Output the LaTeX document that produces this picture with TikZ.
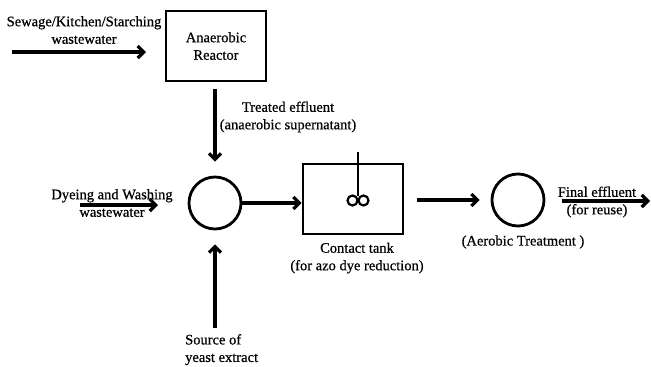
\documentclass[tikz,border=0pt]{standalone}
\usepackage{fontspec}
\setmainfont{Liberation Serif}[FakeBold=0.6]
\usetikzlibrary{arrows.meta}
\begin{document}
\begin{tikzpicture}[x=1pt,y=-1pt,
  flow/.style={line width=3.2pt,-{Straight Barb[length=6pt,width=12pt]}},
  unit/.style={draw,line width=2.8pt,minimum width=100pt,minimum height=70pt,inner sep=0pt},
  vessel/.style={draw,line width=2.8pt,circle,minimum size=52pt,inner sep=0pt},
  lbl/.style={font=\fontsize{14.5}{17.5}\selectfont,align=center,inner sep=0pt}]
\useasboundingbox (0,0) rectangle (651,367);
\node[unit] (reactor) at (216,46) {};
\node[lbl] (reactortxt) at (216,46) {Anaerobic\\Reactor};
\node[lbl] (sewage) at (84,30) {Sewage/Kitchen/Starching\\wastewater};
\coordinate (sewstart) at (12,52);
\coordinate (sewend) at (146,52);
\draw[flow] (sewstart) -- (sewend);
\node[vessel] (mix) at (215,203) {};
\node[lbl] (treated) at (288,117) {Treated effluent\\(anaerobic supernatant)};
\coordinate (rs) at (215,89);
\draw[flow] (rs) -- ([yshift=14pt]mix.north);
\node[lbl] (dye) at (112,203) {Dyeing and Washing\\wastewater};
\coordinate (dyestart) at (80,205);
\coordinate (dyeend) at (158,205);
\draw[flow] (dyestart) -- (dyeend);
\node[unit] (tank) at (353,199) {};
\coordinate (shafttop) at (358,152);
\coordinate (shaftbot) at (358,196);
\draw[line width=2.6pt] (shafttop) -- (shaftbot);
\draw[line width=2.2pt] (352.5,200.5) circle (5pt) (363.5,200.5) circle (5pt);
\node[lbl] (tanktxt) at (357,258) {Contact tank\\(for azo dye reduction)};
\draw[flow] (mix.east) -- (mix.east -| tank.west);
\node[vessel] (aero) at (518,200) {};
\node[lbl] (aerotxt) at (523,242) {(Aerobic Treatment )};
\coordinate (t2s) at (417,200);
\draw[flow] (t2s) -- ([xshift=-11pt]aero.west);
\node[lbl] (final) at (597,202) {Final effluent\\(for reuse)};
\coordinate (fs) at (562,201);
\coordinate (fe) at (650,201);
\draw[flow] (fs) -- (fe);
\node[lbl,align=left,anchor=north west] (yeast) at (185,334) {Source of\\yeast extract};
\coordinate (ys) at (215,328);
\draw[flow] (ys) -- ([yshift=-14pt]mix.south);
\end{tikzpicture}
\end{document}
